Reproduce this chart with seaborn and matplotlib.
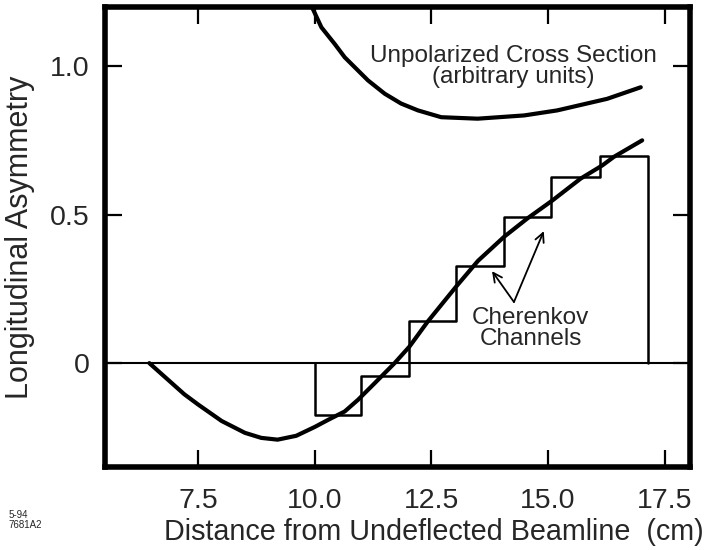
from matplotlib import pyplot as plt
import pandas as pd
import seaborn as sns

# longitudinal asymmetry curve
asym_x = [6.45, 6.85, 7.2, 7.5, 8.0, 8.5, 8.85, 9.2, 9.6, 10.0, 10.3, 10.64, 10.93, 11.3,
          11.71, 12.03, 12.42, 13.03, 13.5, 14.06, 14.56, 15.10, 15.70, 16.17, 16.41, 17.02]
asym_y = [0.0, -0.056, -0.105, -0.14, -0.195, -0.235, -0.252, -0.258, -0.245, -0.215, -0.19,
          -0.163, -0.123, -0.065, 0.0, 0.056, 0.140, 0.258, 0.345, 0.426, 0.488, 0.549, 0.622,
          0.667, 0.695, 0.751]

# unpolarized cross section (arbitrary units)
xsec_x = [9.85, 10.14, 10.43, 10.64, 11.14, 11.50, 11.85, 12.21, 12.71, 13.49, 14.49, 15.20,
          16.27, 16.99]
xsec_y = [1.23, 1.132, 1.075, 1.031, 0.953, 0.908, 0.875, 0.852, 0.829, 0.824, 0.835, 0.852,
          0.891, 0.930]

# Cherenkov channel edges and measured levels
chan_edges = [10.0, 10.98, 12.01, 13.03, 14.05, 15.07, 16.12, 17.15]
chan_levels = [-0.174, -0.043, 0.142, 0.326, 0.492, 0.626, 0.697]

x_ticks = [7.5, 10.0, 12.5, 15.0, 17.5]
y_ticks = [0, 0.5, 1.0]
y_ticklabels = ["0", "0.5", "1.0"]

sns.set_style("ticks")
plt.rcParams["font.family"] = ["Liberation Sans", "DejaVu Sans"]

df_asym = pd.DataFrame({"x": asym_x, "y": asym_y})
df_xsec = pd.DataFrame({"x": xsec_x, "y": xsec_y})

f, ax = plt.subplots(figsize=(7.05, 5.5), dpi=100)
f.subplots_adjust(left=0.149, right=0.979, bottom=0.151, top=0.987)

ax.axhline(0, color="black", lw=1.5, zorder=1)

# staircase of the channels
step_x = [chan_edges[0]] + chan_edges + [chan_edges[-1]]
step_y = [0] + chan_levels + [chan_levels[-1], 0]
ax.step(step_x, step_y, where="post", color="black", lw=1.8, zorder=2)

sns.lineplot(data=df_asym, x="x", y="y", color="black", lw=3, estimator=None, ax=ax, zorder=3)
sns.lineplot(data=df_xsec, x="x", y="y", color="black", lw=3, estimator=None, ax=ax, zorder=3)

ax.set_xlim(5.5, 18.05)
ax.set_ylim(-0.35, 1.2)
ax.set_xticks(x_ticks)
ax.set_xticklabels([f"{t:.1f}" for t in x_ticks])
ax.set_yticks(y_ticks)
ax.set_yticklabels(y_ticklabels)
ax.tick_params(direction="in", length=12.5, width=1.6, top=True, right=True,
               labelsize=20.5, color="black")
ax.tick_params(axis="x", pad=15)
ax.tick_params(axis="y", pad=11)
for s in ax.spines.values():
    s.set_linewidth(4)
    s.set_color("black")

ax.set_xlabel("Distance from Undeflected Beamline  (cm)", fontsize=20.7)
ax.set_ylabel("Longitudinal Asymmetry", fontsize=22)
ax.xaxis.set_label_coords(0.562, -0.11)
ax.yaxis.set_label_coords(-0.12, 0.5)

ax.text(14.25, 1.0, "Unpolarized Cross Section\n(arbitrary units)", ha="center", va="center",
        fontsize=17.5, linespacing=0.9)
ax.text(14.63, 0.117, "Cherenkov\nChannels", ha="center", va="center",
        fontsize=17.5, linespacing=0.9)
ax.annotate("", xy=(13.80, 0.31), xytext=(14.27, 0.206),
            arrowprops=dict(arrowstyle="->", lw=1.3, color="black", shrinkA=0, shrinkB=0,
                            mutation_scale=16))
ax.annotate("", xy=(14.91, 0.445), xytext=(14.27, 0.206),
            arrowprops=dict(arrowstyle="->", lw=1.3, color="black", shrinkA=0, shrinkB=0,
                            mutation_scale=16))

f.text(0.012, 0.055, "5-94\n7681A2", fontsize=7, ha="left", va="center", linespacing=1.0)

plt.savefig("out.png", dpi=100)
